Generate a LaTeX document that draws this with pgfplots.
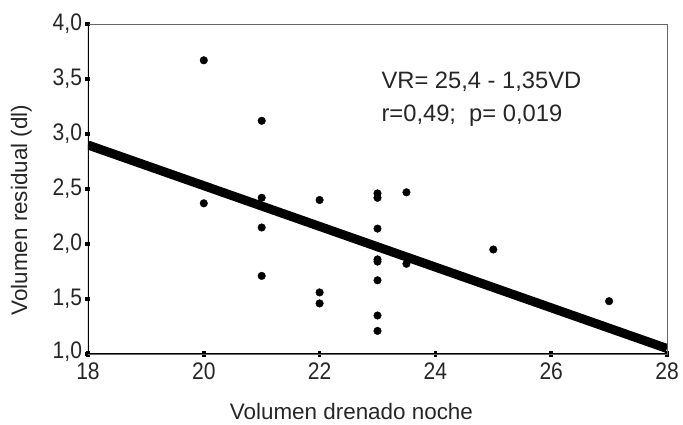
\documentclass[border=0pt]{standalone}
\usepackage{pgfplots}
\pgfplotsset{compat=1.18}
\usepackage{fontspec}
\setmainfont{Liberation Sans}
\newfontfamily\tickfont[FakeStretch=0.88]{Liberation Sans}

\begin{document}
\begin{tikzpicture}[x=1bp,y=1bp]
\useasboundingbox (-88bp,-71bp) rectangle (595bp,354bp);
\begin{axis}[
  at={(0,0)}, anchor=south west,
  scale only axis, width=579bp, height=330bp,
  xmin=18, xmax=28, ymin=1, ymax=4,
  xtick={18,20,...,28}, ytick={1,1.5,...,4},
  yticklabels={\raisebox{8bp}{1,0},{1,5},{2,0},{2,5},{3,0},{3,5},{4,0}},
  /pgf/number format/assume math mode=true,
  xticklabel shift=3bp,
  tick label style={font=\tickfont\fontsize{24}{26}\selectfont, text=black!85},
  xtick pos=left, ytick pos=left,
  tick align=center, major tick length=5bp,
  major tick style={line width=3.5bp, black},
  axis line style={draw=black!60, line width=0.8bp},
  xlabel={Volumen drenado noche},
  ylabel={Volumen residual (dl)},
  label style={font=\fontsize{22.5}{26}\selectfont, text=black!85},
  xlabel style={at={(axis description cs:0.455,-0.197)}, anchor=base},
  ylabel style={at={(axis description cs:-0.105,0.436)}, anchor=base, rotate=0},
]
% regression line
\addplot[black, line width=9bp, line cap=butt] coordinates {(18,2.90) (28,1.05)};
% data points
\addplot[only marks, mark=*, mark size=3.8bp, black] coordinates {
  (20,3.67) (20,2.37)
  (21,3.12) (21,2.42) (21,2.15) (21,1.71)
  (22,2.40) (22,1.56) (22,1.46)
  (23,2.46) (23,2.42) (23,2.14) (23,1.97) (23,1.86) (23,1.84) (23,1.67) (23,1.35) (23,1.21)
  (23.5,2.47) (23.5,1.82)
  (25,1.95)
  (27,1.48)
};
\node[anchor=base west, font=\fontsize{23.8}{27}\selectfont, text=black!85] at (axis cs:23.01,3.415) {VR= 25,4 - 1,35VD};
\node[anchor=base west, font=\fontsize{23.8}{27}\selectfont, text=black!85] at (axis cs:23.01,3.11) {r=0,49;\ \ p= 0,019};
% heavier left and bottom axis lines
\draw[black, line width=1.8bp] (rel axis cs:0,1) -- (rel axis cs:0,0) -- (rel axis cs:1,0);
\end{axis}
\end{tikzpicture}
\end{document}
